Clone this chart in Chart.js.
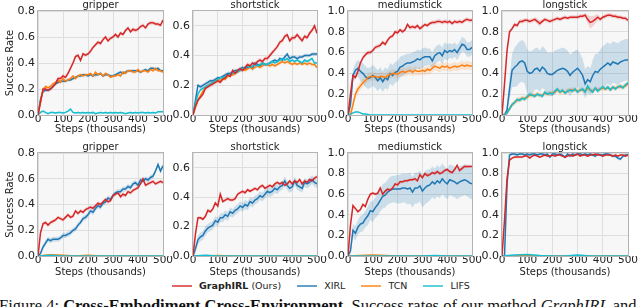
<!DOCTYPE html>
<html>
<head>
<meta charset="utf-8">
<script src="https://cdn.jsdelivr.net/npm/chart.js@4.4.1/dist/chart.umd.min.js"></script>
<style>
  body { margin: 0; width: 640px; height: 307px; overflow: hidden; background: #fff; position: relative; font-family: "DejaVu Sans", sans-serif; }
  canvas { position: absolute; }
  #legend { position: absolute; left: 172px; top: 280px; display: flex; align-items: center; font-size: 9.5px; color: #222; white-space: nowrap; }
  #legend .item { display: flex; align-items: center; margin-right: 16px; }
  #legend .swatch { width: 20px; height: 2px; margin-right: 7px; }
  #caption { position: absolute; left: -1px; top: 296px; font-family: "Liberation Serif", serif; font-size: 16.5px; color: #111; white-space: nowrap; }
</style>
</head>
<body>
<div id="legend"></div>
<div id="caption">Figure 4: <b>Cross-Embodiment Cross-Environment.</b> Success rates of our method <i>GraphIRL</i> and</div>
<script>
// x positions (thousands of steps)
const STEPS = [0,10,20,30,40,50,60,70,80,90,100,110,120,130,140,150,160,170,180,190,200,210,220,230,240,250,260,270,280,290,300,310,320,330,340,350,360,370,380,390,400,410,420,430,440,450,460,470,480,490,500];
const STEPS_COARSE = [0,50,100,150,200,250,300,350,400,450,500];
const X_TICKS = [0,100,200,300,400,500];
const METHODS = ['GraphIRL', 'XIRL', 'TCN', 'LIFS'];

// ---- top row: gripper ----
const TOP_GRIPPER_GRAPHIRL = [0,0.1,0.2,0.2,0.19,0.2,0.22,0.24,0.28,0.28, 0.3,0.29,0.32,0.36,0.4,0.45,0.46,0.42,0.47,0.46, 0.47,0.49,0.52,0.54,0.56,0.55,0.58,0.6,0.57,0.59, 0.6,0.62,0.6,0.63,0.62,0.65,0.67,0.64,0.66,0.65, 0.66,0.68,0.69,0.67,0.7,0.71,0.71,0.7,0.7,0.69, 0.73];
const TOP_GRIPPER_XIRL = [0,0.12,0.18,0.19,0.19,0.2,0.22,0.24,0.25,0.26, 0.26,0.26,0.27,0.27,0.28,0.29,0.3,0.3,0.31,0.31, 0.3,0.31,0.3,0.31,0.31,0.32,0.3,0.31,0.31,0.3, 0.3,0.31,0.32,0.33,0.32,0.33,0.34,0.34,0.34,0.34, 0.34,0.33,0.34,0.35,0.34,0.36,0.36,0.35,0.36,0.34, 0.34];
const TOP_GRIPPER_TCN = [0,0.1,0.19,0.22,0.21,0.22,0.24,0.25,0.27,0.25, 0.28,0.26,0.27,0.28,0.3,0.28,0.3,0.31,0.3,0.31, 0.31,0.32,0.3,0.33,0.31,0.32,0.3,0.32,0.31,0.29, 0.3,0.3,0.31,0.3,0.33,0.32,0.34,0.34,0.33,0.33, 0.35,0.33,0.34,0.34,0.33,0.35,0.34,0.36,0.34,0.34, 0.33];
const TOP_GRIPPER_LIFS = [0,0.02,0.03,0.02,0.01,0.02,0.02,0.015,0.02,0.02, 0.015,0.02,0.03,0.045,0.02,0.015,0.02,0.015,0.02,0.015, 0.02,0.015,0.02,0.01,0.015,0.02,0.015,0.02,0.015,0.02, 0.015,0.02,0.015,0.02,0.015,0.01,0.015,0.02,0.015,0.02, 0.015,0.02,0.02,0.015,0.02,0.015,0.02,0.015,0.025,0.025, 0.025];

// ---- top row: shortstick ----
const TOP_SHORT_GRAPHIRL = [0,0.06,0.1,0.12,0.14,0.18,0.19,0.2,0.21,0.22, 0.23,0.22,0.24,0.25,0.27,0.26,0.3,0.28,0.3,0.31, 0.3,0.32,0.34,0.33,0.35,0.34,0.36,0.37,0.36,0.38, 0.38,0.4,0.42,0.44,0.46,0.49,0.5,0.53,0.54,0.5, 0.52,0.52,0.54,0.52,0.5,0.53,0.52,0.55,0.57,0.6, 0.55];
const TOP_SHORT_XIRL = [0,0.1,0.2,0.19,0.2,0.21,0.22,0.23,0.23,0.24, 0.25,0.25,0.26,0.27,0.28,0.28,0.29,0.3,0.3,0.31, 0.32,0.31,0.32,0.33,0.31,0.35,0.34,0.33,0.35,0.34, 0.34,0.35,0.36,0.37,0.36,0.38,0.37,0.39,0.41,0.38, 0.39,0.39,0.38,0.39,0.39,0.4,0.4,0.4,0.41,0.41, 0.41];
const TOP_SHORT_TCN = [0,0.05,0.1,0.13,0.16,0.18,0.2,0.21,0.22,0.23, 0.24,0.23,0.25,0.24,0.26,0.27,0.27,0.28,0.29,0.3, 0.31,0.3,0.31,0.32,0.31,0.32,0.33,0.32,0.33,0.34, 0.34,0.33,0.34,0.33,0.34,0.35,0.36,0.35,0.36,0.35, 0.34,0.35,0.34,0.35,0.34,0.35,0.34,0.35,0.34,0.34, 0.32];
const TOP_SHORT_LIFS = [0,0.08,0.14,0.17,0.18,0.19,0.2,0.21,0.22,0.23, 0.24,0.25,0.25,0.26,0.27,0.27,0.28,0.29,0.29,0.3, 0.31,0.32,0.33,0.32,0.33,0.34,0.33,0.34,0.35,0.34, 0.34,0.35,0.36,0.35,0.36,0.37,0.38,0.37,0.38,0.36, 0.37,0.36,0.37,0.36,0.35,0.37,0.36,0.37,0.38,0.35, 0.35];

// ---- top row: mediumstick ----
const TOP_MEDIUM_GRAPHIRL = [0,0.2,0.38,0.36,0.42,0.5,0.55,0.58,0.6,0.6, 0.62,0.65,0.66,0.67,0.7,0.68,0.72,0.75,0.76,0.8, 0.79,0.82,0.8,0.82,0.87,0.84,0.85,0.84,0.86,0.83, 0.85,0.87,0.86,0.88,0.89,0.89,0.9,0.9,0.89,0.9, 0.89,0.9,0.88,0.9,0.89,0.9,0.89,0.91,0.92,0.91, 0.91];
const TOP_MEDIUM_XIRL = [0,0.1,0.38,0.43,0.45,0.42,0.4,0.37,0.35,0.36, 0.38,0.36,0.33,0.36,0.32,0.36,0.34,0.4,0.38,0.41, 0.42,0.46,0.47,0.49,0.5,0.5,0.51,0.52,0.54,0.53, 0.55,0.56,0.56,0.56,0.52,0.57,0.59,0.6,0.57,0.62, 0.6,0.62,0.61,0.63,0.6,0.64,0.68,0.67,0.63,0.63, 0.65];
const TOP_MEDIUM_XIRL_SPREAD = [0,0.03,0.06,0.07,0.08,0.09,0.1,0.1,0.1,0.1, 0.1,0.1,0.1,0.1,0.1,0.1,0.1,0.1,0.1,0.1, 0.1,0.1,0.1,0.09,0.09,0.09,0.09,0.09,0.09,0.09, 0.09,0.09,0.08,0.08,0.08,0.08,0.08,0.08,0.08,0.08, 0.08,0.07,0.07,0.07,0.07,0.07,0.07,0.07,0.07,0.07, 0.07];
const TOP_MEDIUM_TCN = [0,0,0.1,0.2,0.25,0.28,0.31,0.33,0.36,0.37, 0.37,0.37,0.36,0.37,0.37,0.36,0.38,0.39,0.4,0.4, 0.39,0.41,0.42,0.41,0.42,0.43,0.41,0.43,0.42,0.42, 0.43,0.42,0.44,0.43,0.45,0.47,0.46,0.45,0.47,0.46, 0.47,0.45,0.46,0.47,0.46,0.47,0.48,0.47,0.48,0.47, 0.47];
const TOP_MEDIUM_LIFS = [0,0.01,0.02,0.03,0.03,0.02,0.01,0.01,0.005,0, 0,0,0,0,0,0,0,0,0,0, 0,0,0,0,0,0,0,0,0,0, 0,0,0,0,0,0,0,0,0,0, 0,0,0,0,0,0,0,0,0,0, 0];

// ---- top row: longstick ----
const TOP_LONG_GRAPHIRL = [0,0.3,0.62,0.8,0.83,0.87,0.86,0.9,0.9,0.91, 0.91,0.9,0.91,0.92,0.9,0.88,0.9,0.92,0.91,0.9, 0.91,0.92,0.93,0.92,0.93,0.94,0.93,0.94,0.94,0.94, 0.94,0.95,0.95,0.96,0.92,0.89,0.9,0.92,0.94,0.92, 0.94,0.95,0.96,0.96,0.95,0.95,0.94,0.94,0.93,0.93, 0.91];
const TOP_LONG_GRAPHIRL_SPREAD = [0,0.02,0.02,0.02,0.02,0.02,0.02,0.02,0.02,0.02, 0.02,0.02,0.02,0.02,0.03,0.03,0.02,0.02,0.02,0.02, 0.02,0.02,0.02,0.02,0.02,0.02,0.02,0.02,0.02,0.02, 0.02,0.02,0.02,0.02,0.04,0.06,0.05,0.04,0.03,0.02, 0.02,0.02,0.02,0.02,0.02,0.02,0.02,0.02,0.02,0.02, 0.02];
const TOP_LONG_XIRL = [0,0,0.05,0.25,0.43,0.46,0.48,0.51,0.52,0.5, 0.42,0.4,0.41,0.44,0.45,0.42,0.46,0.44,0.4,0.39, 0.39,0.41,0.43,0.44,0.45,0.44,0.42,0.38,0.41,0.43, 0.45,0.42,0.38,0.3,0.34,0.32,0.38,0.42,0.41,0.44, 0.46,0.48,0.5,0.48,0.51,0.5,0.49,0.51,0.52,0.53, 0.53];
const TOP_LONG_XIRL_SPREAD = [0,0,0.03,0.1,0.16,0.19,0.2,0.2,0.2,0.2, 0.21,0.21,0.21,0.2,0.2,0.2,0.2,0.2,0.2,0.21, 0.21,0.21,0.2,0.2,0.2,0.2,0.2,0.2,0.19,0.19, 0.18,0.17,0.16,0.14,0.13,0.13,0.15,0.17,0.18,0.19, 0.2,0.2,0.2,0.2,0.2,0.2,0.2,0.2,0.2,0.2, 0.2];
const TOP_LONG_TCN = [0,0,0.02,0.06,0.1,0.12,0.14,0.15,0.16,0.16, 0.17,0.19,0.19,0.19,0.2,0.19,0.19,0.21,0.2,0.21, 0.21,0.22,0.24,0.22,0.23,0.22,0.23,0.24,0.24,0.24, 0.23,0.24,0.24,0.23,0.26,0.24,0.23,0.25,0.24,0.25, 0.26,0.25,0.26,0.25,0.26,0.26,0.27,0.27,0.27,0.28, 0.3];
const TOP_LONG_LIFS = [0,0,0.02,0.06,0.1,0.12,0.15,0.14,0.16,0.15, 0.18,0.2,0.19,0.18,0.2,0.19,0.18,0.22,0.2,0.21, 0.2,0.23,0.25,0.22,0.24,0.21,0.23,0.24,0.23,0.25, 0.22,0.24,0.25,0.22,0.28,0.24,0.22,0.26,0.23,0.25, 0.27,0.25,0.27,0.24,0.27,0.25,0.27,0.28,0.26,0.29, 0.31];

// ---- bottom row: gripper ----
const BOT_GRIPPER_GRAPHIRL = [0,0.18,0.25,0.26,0.24,0.26,0.27,0.28,0.3,0.29, 0.28,0.3,0.32,0.3,0.31,0.35,0.33,0.35,0.34,0.36, 0.37,0.38,0.37,0.39,0.41,0.4,0.42,0.44,0.42,0.43, 0.47,0.48,0.49,0.46,0.48,0.47,0.5,0.49,0.51,0.52, 0.53,0.56,0.6,0.55,0.56,0.57,0.58,0.56,0.57,0.58, 0.57];
const BOT_GRIPPER_XIRL = [0,0.02,0.07,0.1,0.13,0.12,0.13,0.13,0.13,0.14, 0.16,0.16,0.17,0.18,0.2,0.21,0.24,0.26,0.29,0.3, 0.32,0.35,0.34,0.37,0.39,0.38,0.41,0.42,0.45,0.44, 0.47,0.49,0.5,0.5,0.52,0.52,0.54,0.53,0.56,0.57, 0.55,0.59,0.58,0.6,0.59,0.61,0.62,0.66,0.71,0.66, 0.7];
const BOT_GRIPPER_TCN = [0,0.01,0.005,0,0.005,0,0,0,0,0,0];
const BOT_GRIPPER_LIFS = [0,0.005,0,0,0,0,0,0,0,0,0];

// ---- bottom row: shortstick ----
const BOT_SHORT_GRAPHIRL = [0,0.15,0.26,0.26,0.25,0.27,0.31,0.3,0.32,0.36, 0.34,0.42,0.37,0.38,0.39,0.38,0.38,0.39,0.42,0.43, 0.44,0.43,0.45,0.44,0.45,0.46,0.45,0.47,0.48,0.46, 0.47,0.48,0.47,0.49,0.5,0.49,0.5,0.48,0.49,0.51, 0.49,0.51,0.5,0.52,0.49,0.51,0.5,0.52,0.51,0.53, 0.54];
const BOT_SHORT_XIRL = [0,0.05,0.11,0.13,0.14,0.17,0.19,0.2,0.21,0.24, 0.23,0.26,0.26,0.28,0.27,0.3,0.29,0.31,0.32,0.34, 0.33,0.35,0.34,0.37,0.36,0.38,0.39,0.41,0.4,0.42, 0.44,0.43,0.44,0.46,0.45,0.47,0.48,0.51,0.48,0.46, 0.47,0.51,0.48,0.47,0.46,0.5,0.49,0.5,0.52,0.5, 0.49];
const BOT_SHORT_TCN = [0,0,0.003,0,0,0,0,0,0,0,0];
const BOT_SHORT_LIFS = [0,0.005,0,0,0,0,0,0,0,0,0];

// ---- bottom row: mediumstick ----
const BOT_MEDIUM_GRAPHIRL = [0,0.3,0.49,0.46,0.43,0.45,0.5,0.48,0.55,0.6, 0.61,0.6,0.61,0.66,0.6,0.63,0.65,0.64,0.66,0.7, 0.69,0.72,0.72,0.73,0.73,0.74,0.74,0.75,0.73,0.79, 0.76,0.8,0.78,0.79,0.81,0.8,0.82,0.8,0.81,0.83, 0.84,0.82,0.81,0.84,0.88,0.83,0.85,0.87,0.87,0.87, 0.87];
const BOT_MEDIUM_XIRL = [0,0.05,0.25,0.22,0.28,0.31,0.32,0.36,0.39,0.44, 0.43,0.47,0.5,0.54,0.58,0.59,0.62,0.64,0.65,0.65, 0.65,0.65,0.66,0.66,0.65,0.66,0.62,0.66,0.66,0.68, 0.63,0.66,0.68,0.69,0.72,0.7,0.73,0.71,0.75,0.72, 0.7,0.74,0.73,0.72,0.7,0.72,0.73,0.74,0.73,0.71, 0.7];
const BOT_MEDIUM_XIRL_SPREAD = [0,0.03,0.06,0.07,0.07,0.08,0.08,0.08,0.09,0.09, 0.1,0.1,0.11,0.11,0.12,0.12,0.12,0.13,0.13,0.13, 0.14,0.14,0.14,0.14,0.15,0.15,0.15,0.15,0.15,0.15, 0.16,0.16,0.16,0.15,0.15,0.15,0.15,0.15,0.15,0.15, 0.15,0.15,0.15,0.15,0.15,0.15,0.15,0.15,0.15,0.15, 0.15];
const BOT_MEDIUM_TCN = [0,0.005,0.01,0.005,0,0,0,0,0,0,0];
const BOT_MEDIUM_LIFS = [0,0,0,0,0,0,0,0.005,0,0,0];

// ---- bottom row: longstick ----
const BOT_LONG_GRAPHIRL = [0,0.35,0.75,0.93,0.95,0.96,0.96,0.96,0.96,0.97, 0.97,0.95,0.97,0.98,0.97,0.96,0.97,0.98,0.97,0.97, 0.98,0.97,0.98,0.98,0.97,0.96,0.97,0.98,0.97,0.98, 0.99,0.97,0.98,0.98,0.97,0.98,0.98,0.99,0.98,0.98, 0.97,0.98,0.98,0.98,0.97,0.98,0.97,0.98,0.98,0.97, 0.98];
const BOT_LONG_XIRL = [0,0,0.7,0.98,0.99,0.99,0.98,0.99,0.99,0.98, 0.99,0.98,0.99,0.99,0.98,0.99,0.99,0.98,0.99,0.96, 0.99,0.99,0.98,0.99,0.98,0.96,0.99,0.97,0.99,0.98, 0.99,0.99,0.98,0.99,0.98,0.99,0.98,0.97,0.99,0.98, 0.98,0.99,0.99,0.98,0.97,0.97,0.95,0.94,0.97,0.98, 0.98];
const BOT_LONG_TCN = [0,0,0.005,0,0,0,0,0,0,0,0];
const BOT_LONG_LIFS = [0,0.01,0.015,0.005,0,0,0.01,0,0,0,0];

const COLORS = { GraphIRL: '#d62728', XIRL: '#1f77b4', TCN: '#ff7f0e', LIFS: '#17becf' };
const BAND_ALPHA = { GraphIRL: 0.18, XIRL: 0.2, TCN: 0.16, LIFS: 0.2 };
const LINE_ORDER = { GraphIRL: 1, LIFS: 2, TCN: 3, XIRL: 4 };

const ROW1 = { top: 11, height: 104, axisH: 20 };
const ROW2 = { top: 153, height: 103, axisH: 22 };
const COLS = [ { left: 38, width: 125 }, { left: 193, width: 124 }, { left: 348, width: 124 }, { left: 502, width: 126 } ];

const PANELS = [
  { row: ROW1, col: COLS[0], title: 'gripper', yMax: 0.8, yTitle: true, series: [
    ['GraphIRL', STEPS, TOP_GRIPPER_GRAPHIRL, 0.015], ['XIRL', STEPS, TOP_GRIPPER_XIRL, 0.012],
    ['TCN', STEPS, TOP_GRIPPER_TCN, 0.012], ['LIFS', STEPS, TOP_GRIPPER_LIFS, 0.006] ] },
  { row: ROW1, col: COLS[1], title: 'shortstick', yMax: 0.7, series: [
    ['GraphIRL', STEPS, TOP_SHORT_GRAPHIRL, 0.015], ['XIRL', STEPS, TOP_SHORT_XIRL, 0.012],
    ['TCN', STEPS, TOP_SHORT_TCN, 0.012], ['LIFS', STEPS, TOP_SHORT_LIFS, 0.01] ] },
  { row: ROW1, col: COLS[2], title: 'mediumstick', yMax: 1.0, series: [
    ['GraphIRL', STEPS, TOP_MEDIUM_GRAPHIRL, 0.02], ['XIRL', STEPS, TOP_MEDIUM_XIRL, TOP_MEDIUM_XIRL_SPREAD],
    ['TCN', STEPS, TOP_MEDIUM_TCN, 0.04], ['LIFS', STEPS, TOP_MEDIUM_LIFS, 0.005] ] },
  { row: ROW1, col: COLS[3], title: 'longstick', yMax: 1.0, series: [
    ['GraphIRL', STEPS, TOP_LONG_GRAPHIRL, TOP_LONG_GRAPHIRL_SPREAD], ['XIRL', STEPS, TOP_LONG_XIRL, TOP_LONG_XIRL_SPREAD],
    ['TCN', STEPS, TOP_LONG_TCN, 0.025], ['LIFS', STEPS, TOP_LONG_LIFS, 0.02] ] },
  { row: ROW2, col: COLS[0], title: 'gripper', yMax: 0.8, yTitle: true, series: [
    ['GraphIRL', STEPS, BOT_GRIPPER_GRAPHIRL, 0.015], ['XIRL', STEPS, BOT_GRIPPER_XIRL, 0.02],
    ['TCN', STEPS_COARSE, BOT_GRIPPER_TCN, 0.004], ['LIFS', STEPS_COARSE, BOT_GRIPPER_LIFS, 0.003] ] },
  { row: ROW2, col: COLS[1], title: 'shortstick', yMax: 0.7, series: [
    ['GraphIRL', STEPS, BOT_SHORT_GRAPHIRL, 0.012], ['XIRL', STEPS, BOT_SHORT_XIRL, 0.03],
    ['TCN', STEPS_COARSE, BOT_SHORT_TCN, 0.003], ['LIFS', STEPS_COARSE, BOT_SHORT_LIFS, 0.003] ] },
  { row: ROW2, col: COLS[2], title: 'mediumstick', yMax: 1.0, series: [
    ['GraphIRL', STEPS, BOT_MEDIUM_GRAPHIRL, 0.015], ['XIRL', STEPS, BOT_MEDIUM_XIRL, BOT_MEDIUM_XIRL_SPREAD],
    ['TCN', STEPS_COARSE, BOT_MEDIUM_TCN, 0.004], ['LIFS', STEPS_COARSE, BOT_MEDIUM_LIFS, 0.003] ] },
  { row: ROW2, col: COLS[3], title: 'longstick', yMax: 1.0, series: [
    ['GraphIRL', STEPS, BOT_LONG_GRAPHIRL, 0.01], ['XIRL', STEPS, BOT_LONG_XIRL, 0.015],
    ['TCN', STEPS_COARSE, BOT_LONG_TCN, 0.004], ['LIFS', STEPS_COARSE, BOT_LONG_LIFS, 0.005] ] }
];

function rgba(hex, a) {
  const n = parseInt(hex.slice(1), 16);
  return `rgba(${n >> 16},${(n >> 8) & 255},${n & 255},${a})`;
}

function points(xs, ys, spread, sign) {
  return xs.map((x, i) => {
    const s = Array.isArray(spread) ? spread[i] : spread;
    return { x: x, y: ys[i] + sign * s };
  });
}

// grey plot background, frame and panel title
const panelDecor = {
  id: 'panelDecor',
  beforeDraw(chart) {
    const a = chart.chartArea, ctx = chart.ctx;
    ctx.save();
    ctx.fillStyle = '#f7f7f7';
    ctx.fillRect(a.left, a.top, a.right - a.left, a.bottom - a.top);
    ctx.restore();
  },
  afterDatasetsDraw(chart) {
    const a = chart.chartArea, ctx = chart.ctx;
    ctx.save();
    ctx.strokeStyle = '#b4b4b4';
    ctx.lineWidth = 1;
    ctx.strokeRect(a.left - 0.5, a.top - 0.5, a.right - a.left + 1, a.bottom - a.top + 1);
    ctx.fillStyle = '#222';
    ctx.font = '10px "DejaVu Sans"';
    ctx.textAlign = 'center';
    ctx.textBaseline = 'middle';
    ctx.fillText(chart.options.plugins.panelDecor.title, (a.left + a.right) / 2, a.top - 5.5);
    ctx.restore();
  }
};

function buildPanel(p) {
  const yAxisW = p.yTitle ? 38 : 30;
  const padTop = 11, padRight = 12;
  const cw = yAxisW + p.col.width + padRight;
  const ch = padTop + p.row.height + p.row.axisH;
  const canvas = document.createElement('canvas');
  canvas.width = cw; canvas.height = ch;
  canvas.style.width = cw + 'px'; canvas.style.height = ch + 'px';
  canvas.style.left = (p.col.left - yAxisW) + 'px';
  canvas.style.top = (p.row.top - padTop) + 'px';
  document.body.appendChild(canvas);

  const datasets = [];
  p.series.forEach(([name, xs, ys, spread]) => {
    const c = COLORS[name];
    datasets.push({ data: points(xs, ys, spread, -1), borderColor: 'transparent', borderWidth: 0, pointRadius: 0, fill: false, order: 20, clip: 0 });
    datasets.push({ data: points(xs, ys, spread, 1), borderColor: 'transparent', borderWidth: 0, pointRadius: 0, fill: '-1', backgroundColor: rgba(c, BAND_ALPHA[name]), order: 20, clip: 0 });
    datasets.push({ label: name, data: points(xs, ys, 0, 0), borderColor: c, borderWidth: 1.5, pointRadius: 0, fill: false, tension: 0, order: LINE_ORDER[name], clip: 0 });
  });

  new Chart(canvas, {
    type: 'line',
    data: { datasets },
    options: {
      responsive: false,
      animation: false,
      devicePixelRatio: 1,
      layout: { padding: { top: padTop, right: padRight, left: 0, bottom: 0 } },
      plugins: { legend: { display: false }, tooltip: { enabled: false }, panelDecor: { title: p.title } },
      scales: {
        x: {
          type: 'linear', min: 0, max: 500,
          afterBuildTicks: s => { s.ticks = X_TICKS.map(v => ({ value: v })); },
          ticks: { color: '#222', font: { family: 'DejaVu Sans', size: 10.5 }, padding: -2, maxRotation: 0, callback: v => String(v) },
          grid: { color: '#dedede', drawTicks: false },
          border: { display: false },
          title: { display: true, text: 'Steps (thousands)', color: '#222', font: { family: 'DejaVu Sans', size: 10 }, padding: 0 },
          afterFit: s => { s.height = p.row.axisH; s.paddingLeft = 0; s.paddingRight = 0; }
        },
        y: {
          min: 0, max: p.yMax,
          ticks: { stepSize: 0.2, color: '#222', font: { family: 'DejaVu Sans', size: 11 }, padding: 3,
            callback: v => Math.abs(v / 0.2 - Math.round(v / 0.2)) < 1e-6 ? v.toFixed(1) : null },
          grid: { color: '#dedede', drawTicks: false },
          border: { display: false },
          title: { display: !!p.yTitle, text: 'Success Rate', color: '#222', font: { family: 'DejaVu Sans', size: 10 }, padding: { top: 4, bottom: 0 } },
          afterFit: s => { s.width = yAxisW; s.paddingTop = 0; s.paddingBottom = 0; }
        }
      }
    },
    plugins: [panelDecor]
  });
}

PANELS.forEach(buildPanel);

// legend below the grid
const legend = document.getElementById('legend');
METHODS.forEach(name => {
  const item = document.createElement('div');
  item.className = 'item';
  const sw = document.createElement('div');
  sw.className = 'swatch';
  sw.style.background = rgba(COLORS[name], 0.7);
  const label = document.createElement('span');
  if (name === 'GraphIRL') label.innerHTML = '<b>GraphIRL</b> (Ours)';
  else label.textContent = name;
  item.appendChild(sw);
  item.appendChild(label);
  legend.appendChild(item);
});
</script>
</body>
</html>
